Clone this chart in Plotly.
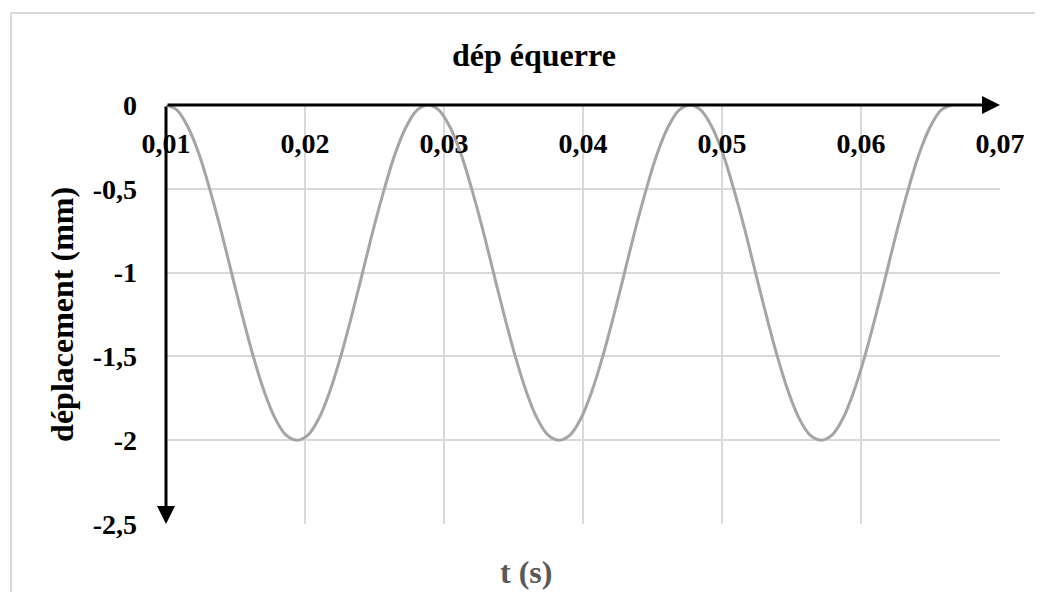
import plotly.graph_objects as go

# temps (s) et déplacement (mm)
t_s = [0.01000, 0.01079, 0.01157, 0.01236, 0.01314, 0.01393, 0.01471, 0.01550,
       0.01628, 0.01707, 0.01785, 0.01864, 0.01942, 0.02021, 0.02100, 0.02178,
       0.02257, 0.02335, 0.02414, 0.02492, 0.02571, 0.02649, 0.02728, 0.02806,
       0.02885, 0.02963, 0.03042, 0.03121, 0.03199, 0.03278, 0.03356, 0.03435,
       0.03513, 0.03592, 0.03670, 0.03749, 0.03827, 0.03906, 0.03985, 0.04063,
       0.04142, 0.04220, 0.04299, 0.04377, 0.04456, 0.04534, 0.04613, 0.04691,
       0.04770, 0.04848, 0.04927, 0.05006, 0.05084, 0.05163, 0.05241, 0.05320,
       0.05398, 0.05477, 0.05555, 0.05634, 0.05712, 0.05791, 0.05870, 0.05948,
       0.06027, 0.06105, 0.06184, 0.06262, 0.06341, 0.06419, 0.06498, 0.06576,
       0.06655]
dep_mm = [0.0, -0.03, -0.13, -0.29, -0.5, -0.74, -1.0, -1.26, -1.5, -1.71, -1.87, -1.97,
          -2.0, -1.97, -1.87, -1.71, -1.5, -1.26, -1.0, -0.74, -0.5, -0.29, -0.13, -0.03,
          0.0, -0.03, -0.13, -0.29, -0.5, -0.74, -1.0, -1.26, -1.5, -1.71, -1.87, -1.97,
          -2.0, -1.97, -1.87, -1.71, -1.5, -1.26, -1.0, -0.74, -0.5, -0.29, -0.13, -0.03,
          0.0, -0.03, -0.13, -0.29, -0.5, -0.74, -1.0, -1.26, -1.5, -1.71, -1.87, -1.97,
          -2.0, -1.97, -1.87, -1.71, -1.5, -1.26, -1.0, -0.74, -0.5, -0.29, -0.13, -0.03,
          0.0]

x_ticks = [0.01, 0.02, 0.03, 0.04, 0.05, 0.06, 0.07]
x_tick_labels = ["0,01", "0,02", "0,03", "0,04", "0,05", "0,06", "0,07"]
y_ticks = [0, -0.5, -1, -1.5, -2, -2.5]
y_tick_labels = ["0", "-0,5", "-1", "-1,5", "-2", "-2,5"]

x_range = [0.01, 0.07]
y_range = [-2.5, 0]

font = "Liberation Serif, Times New Roman, serif"
grid = "#D9D9D9"
tick_font = dict(family=font, size=28, color="black", weight="bold")

fig = go.Figure()
fig.add_trace(go.Scatter(
    x=t_s, y=dep_mm, mode="lines",
    line=dict(color="#A5A5A5", width=3, shape="spline", smoothing=1),
    hoverinfo="skip", showlegend=False,
))

# axes with arrows, Excel style
fig.add_annotation(x=x_range[1], y=0, ax=x_range[0], ay=0,
                   xref="x", yref="y", axref="x", ayref="y",
                   text="", showarrow=True, arrowhead=2, arrowsize=1.2,
                   arrowwidth=3, arrowcolor="black")
fig.add_annotation(x=x_range[0], y=y_range[0], ax=x_range[0], ay=0,
                   xref="x", yref="y", axref="x", ayref="y",
                   text="", showarrow=True, arrowhead=2, arrowsize=1.2,
                   arrowwidth=3, arrowcolor="black")

fig.add_annotation(text="dép équerre", xref="paper", yref="paper",
                   x=0.441, y=1.119, xanchor="center", yanchor="middle",
                   showarrow=False,
                   font=dict(family=font, size=32, color="black", weight="bold"))
fig.add_annotation(text="t (s)", xref="paper", yref="paper",
                   x=0.4317, y=-0.115, xanchor="center", yanchor="middle",
                   showarrow=False,
                   font=dict(family=font, size=32, color="#595959", weight="bold"))
fig.add_annotation(text="déplacement (mm)", xref="paper", yref="paper",
                   x=-0.1247, y=0.499, xanchor="center", yanchor="middle",
                   showarrow=False, textangle=-90,
                   font=dict(family=font, size=32, color="black", weight="bold"))

# chart area border: only its top and left edges fall inside the window
fig.add_shape(type="line", xref="paper", yref="paper",
              x0=-0.1859, y0=1.2196, x1=1.2, y1=1.2196,
              line=dict(color=grid, width=2), layer="below")
fig.add_shape(type="line", xref="paper", yref="paper",
              x0=-0.1859, y0=1.2196, x1=-0.1859, y1=-0.3,
              line=dict(color=grid, width=2), layer="below")

# page body has an 8px margin: shrink the figure so it fits the window
fig.update_layout(
    width=1035, height=584,
    margin=dict(l=158, r=43, t=97, b=68),
    paper_bgcolor="white", plot_bgcolor="white",
    separators=", ",
    xaxis=dict(range=x_range, side="bottom", anchor="free", position=1,
               tickvals=x_ticks, ticktext=x_tick_labels,
               ticklabelstandoff=19, ticklabeloverflow="allow",
               showgrid=True, gridcolor=grid, gridwidth=2, zeroline=False,
               showline=False, ticks="", tickfont=tick_font),
    yaxis=dict(range=y_range, tickvals=y_ticks, ticktext=y_tick_labels,
               ticklabelstandoff=28, ticklabeloverflow="allow",
               showgrid=True, gridcolor=grid, gridwidth=2, zeroline=False,
               showline=False, ticks="", tickfont=tick_font),
)

fig.write_html("out.html")
